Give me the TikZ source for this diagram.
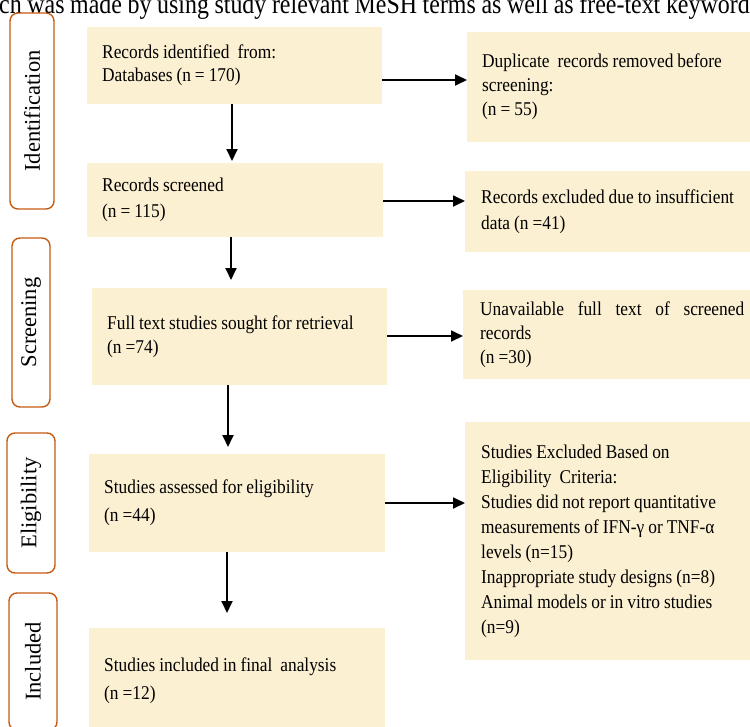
\documentclass[tikz,border=0pt]{standalone}
\usepackage{fontspec}
\setmainfont{Liberation Serif}
\newfontfamily\boxfontraw{Liberation Serif}[FakeStretch=0.89]
\newcommand\boxfont[1]{\boxfontraw\fontsize{19.5}{#1}\selectfont}
\newcommand\tightspace{\spaceskip=4pt plus 1pt minus 0.5pt\relax}
\newfontfamily\topfontraw{Liberation Serif}[FakeStretch=0.87]
\newcommand\topfont{\topfontraw\fontsize{27.5}{30}\selectfont\spaceskip=5.6pt plus 1pt\relax}
\usetikzlibrary{arrows.meta}
\definecolor{boxfill}{HTML}{FCF0D2}
\definecolor{stageline}{HTML}{C55A11}
\begin{document}
\begin{tikzpicture}[x=1pt,y=-1pt,
  flowbox/.style={fill=boxfill, draw=none, anchor=north west, inner ysep=0pt, inner xsep=15pt, align=left,
    execute at begin node=\tightspace},
  stage/.style={draw=stageline, line width=1.4pt, rounded corners=8pt, fill=white, rotate=90,
    inner sep=0pt, font=\fontsize{22.5}{24}\selectfont},
  arr/.style={line width=1.8pt, -{Triangle[length=12pt,width=11pt]}}]
\useasboundingbox (0,0) rectangle (750,726);
\begin{scope}
\clip (0,0) rectangle (750,726);
% cut-off line of text at the top
\node[anchor=base west, inner sep=0pt, font=\topfont] (toptext) at (-1,13)
  {ch was made by using study relevant MeSH terms as well as free-text keywords};

% stage labels
\node[stage, minimum width=196, minimum height=44] (sid) at (32,111) {Identification};
\node[stage, minimum width=169, minimum height=38] (sscr) at (31,322.5) {Screening};
\node[stage, minimum width=140, minimum height=48] (selig) at (31,503) {Eligibility};
\node[stage, minimum width=137, minimum height=48] (sinc) at (33,661.5) {Included};

% main column
\node[flowbox, minimum width=295, minimum height=77, text width=265,
  font=\boxfont{23}] (b1) at (87,27)
  {\mbox{Records identified\ \ from:}\\Databases (n = 170)};
\node[flowbox, minimum width=296, minimum height=74, text width=266,
  font=\boxfont{26}] (b2) at (87,163)
  {Records screened\\(n = 115)};
\node[flowbox, minimum width=295, minimum height=97, text width=265,
  font=\boxfont{24}] (b3) at (92,288)
  {\mbox{Full text studies sought for retrieval}\\(n =74)};
\node[flowbox, minimum width=296, minimum height=98, text width=266,
  font=\boxfont{28}] (b4) at (89,454)
  {Studies assessed for eligibility\\(n =44)};
\node[flowbox, minimum width=296, minimum height=106, text width=266,
  font=\boxfont{28}] (b5) at (89,628)
  {\mbox{Studies included in final\ \ analysis}\\(n =12)};

% right column
\node[flowbox, minimum width=283, minimum height=110, text width=253,
  font=\boxfont{24}] (r1) at (467,32)
  {\mbox{Duplicate\ \ records removed before}\\screening:\\(n = 55)};
\node[flowbox, minimum width=285, minimum height=81, text width=253, inner xsep=16pt,
  font=\boxfont{26}] (r2) at (465,171)
  {\mbox{Records excluded due to insufficient}\\data (n =41)};
\node[flowbox, minimum width=287, minimum height=89, text width=253, inner xsep=17pt,
  font=\boxfont{24}] (r3) at (463,290)
  {\hbox to 264pt{Unavailable\hfill full\hfill text\hfill of\hfill screened}\\records\\(n =30)};
\node[flowbox, minimum width=285, minimum height=238, text width=253, inner xsep=16pt,
  font=\boxfont{25}] (r4) at (465,422)
  {Studies Excluded Based on\\Eligibility\ \ Criteria:\\\mbox{Studies did not report quantitative}\\
   \mbox{measurements\ of IFN-γ or TNF-α}\\levels\ (n=15)\\\mbox{Inappropriate study designs (n=8)}\\
   \mbox{Animal\ models or in vitro\ studies}\\(n=9)};

% connectors
\coordinate (h1) at (0,80);
\coordinate (h2) at (0,201);
\coordinate (h3) at (0,336);
\coordinate (h4) at (0,503);
\coordinate (v1) at (232,0);
\coordinate (v2) at (231,0);
\coordinate (v3) at (228,0);
\coordinate (v4) at (227,0);
\draw[arr] (b1.east |- h1) -- (r1.west |- h1);
\draw[arr] (b2.east |- h2) -- (r2.west |- h2);
\draw[arr] (b3.east |- h3) -- (r3.west |- h3);
\draw[arr] (b4.east |- h4) -- (r4.west |- h4);
\draw[arr, shorten >=2pt] (b1.south -| v1) -- (b2.north -| v1);
\draw[arr, shorten >=8pt] (b2.south -| v2) -- (b3.north -| v2);
\draw[arr, shorten >=7pt] (b3.south -| v3) -- (b4.north -| v3);
\draw[arr, shorten >=15pt] (b4.south -| v4) -- (b5.north -| v4);
\end{scope}
\end{tikzpicture}
\end{document}
